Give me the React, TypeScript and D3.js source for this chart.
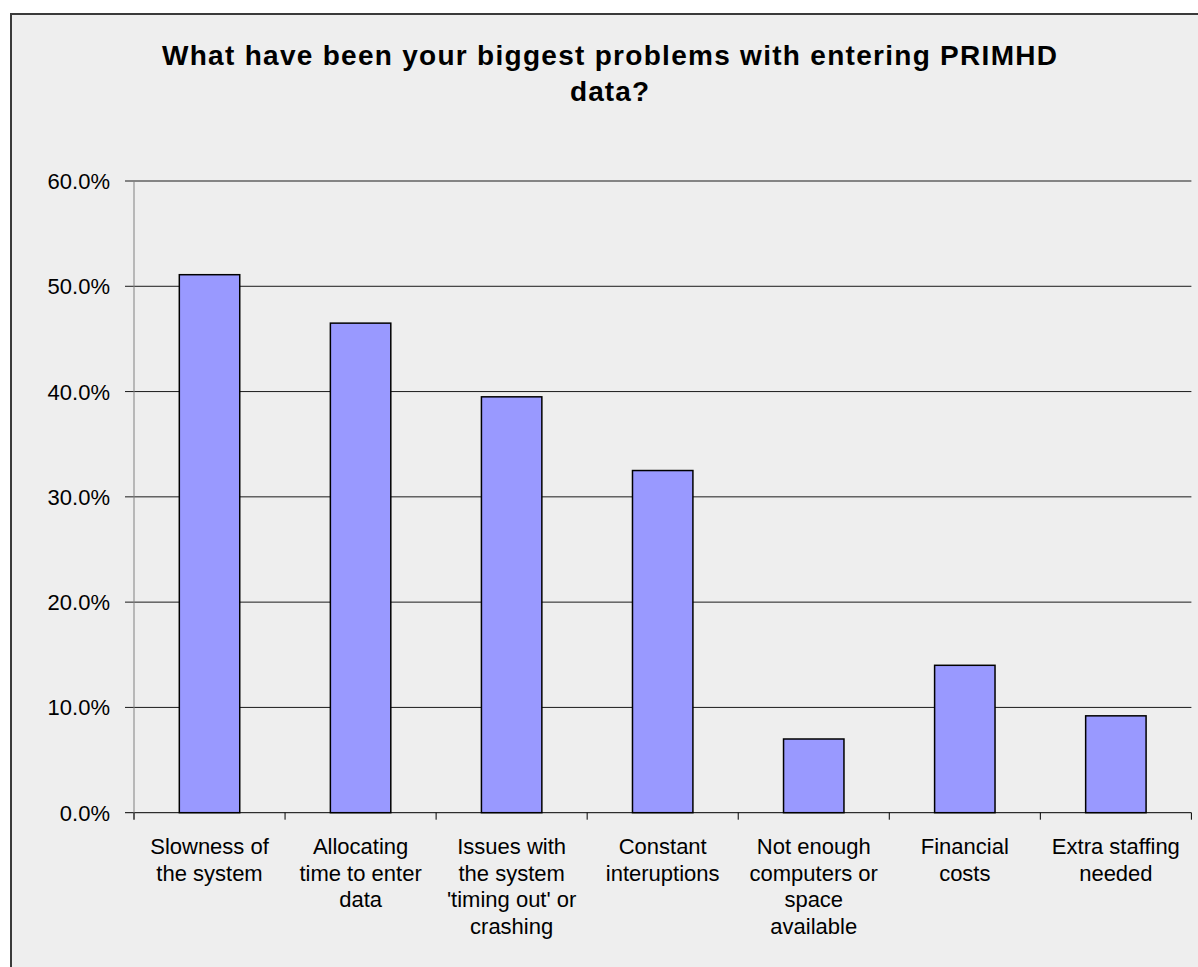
import React from "react";
import * as d3 from "d3";

const categories = [
  "Slowness of the system",
  "Allocating time to enter data",
  "Issues with the system 'timing out' or crashing",
  "Constant interuptions",
  "Not enough computers or space available",
  "Financial costs",
  "Extra staffing needed",
];
const categoryLines = [
  ["Slowness of", "the system"],
  ["Allocating", "time to enter", "data"],
  ["Issues with", "the system", "'timing out' or", "crashing"],
  ["Constant", "interuptions"],
  ["Not enough", "computers or", "space", "available"],
  ["Financial", "costs"],
  ["Extra staffing", "needed"],
];
const values = [0.511, 0.465, 0.395, 0.325, 0.07, 0.14, 0.092];
const yTicks = [0, 0.1, 0.2, 0.3, 0.4, 0.5, 0.6];
const titleLines = ["What have been your biggest problems with entering PRIMHD", "data?"];

export default function App() {
  const W = 1198, H = 967;
  const left = 134, right = 1191.4, top = 181, bottom = 812.7;
  const x = d3.scaleBand<string>().domain(categories).range([left, right]).paddingInner(0.6).paddingOuter(0.3);
  const y = d3.scaleLinear().domain([0, 0.6]).range([bottom, top]);
  const step = x.step();
  const boundaries = categories.map((c) => (x(c) as number) - step * 0.3).concat([right]);
  const fmt = d3.format(".1%");
  const font = "Arial, 'Liberation Sans', sans-serif";
  return (
    <svg width={W} height={H} style={{ position: "absolute", left: 0, top: 0, display: "block" }} fontFamily={font}>
      <rect x={0} y={0} width={W} height={H} fill="#ffffff" />
      <rect x={11} y={14} width={W + 20} height={H + 20} fill="#eeeeee" stroke="#3a3a3a" strokeWidth={2} />
      <text x={609.5} y={65} textAnchor="middle" fontSize={28} fontWeight="bold" fill="#000"
        textLength={895} lengthAdjust="spacing">{titleLines[0]}</text>
      <text x={609.5} y={101} textAnchor="middle" fontSize={28} fontWeight="bold" fill="#000"
        textLength={79} lengthAdjust="spacing">{titleLines[1]}</text>
      {yTicks.map((t) => (
        <g key={t}>
          <line x1={125} x2={right} y1={y(t)} y2={y(t)} stroke={t === 0 ? "#000" : "#1a1a1a"} strokeWidth={1} />
          <text x={110} y={y(t) + 8} textAnchor="end" fontSize={22} fill="#000">{fmt(t)}</text>
        </g>
      ))}
      <line x1={left} x2={left} y1={top} y2={bottom + 7} stroke="#808080" strokeWidth={1} />
      {boundaries.map((b, i) => (
        <line key={i} x1={b} x2={b} y1={bottom} y2={bottom + 7} stroke="#000" strokeWidth={1} />
      ))}
      {categories.map((c, i) => (
        <rect key={c} x={x(c)} y={y(values[i])} width={x.bandwidth()} height={bottom - y(values[i])}
          fill="#9999ff" stroke="#000" strokeWidth={1.5} />
      ))}
      {categories.map((c, i) => (
        <text key={c} x={(x(c) as number) + x.bandwidth() / 2} textAnchor="middle" fontSize={22} fill="#000">
          {categoryLines[i].map((l, j) => (
            <tspan key={j} x={(x(c) as number) + x.bandwidth() / 2} y={854 + j * 26.5}>{l}</tspan>
          ))}
        </text>
      ))}
    </svg>
  );
}
